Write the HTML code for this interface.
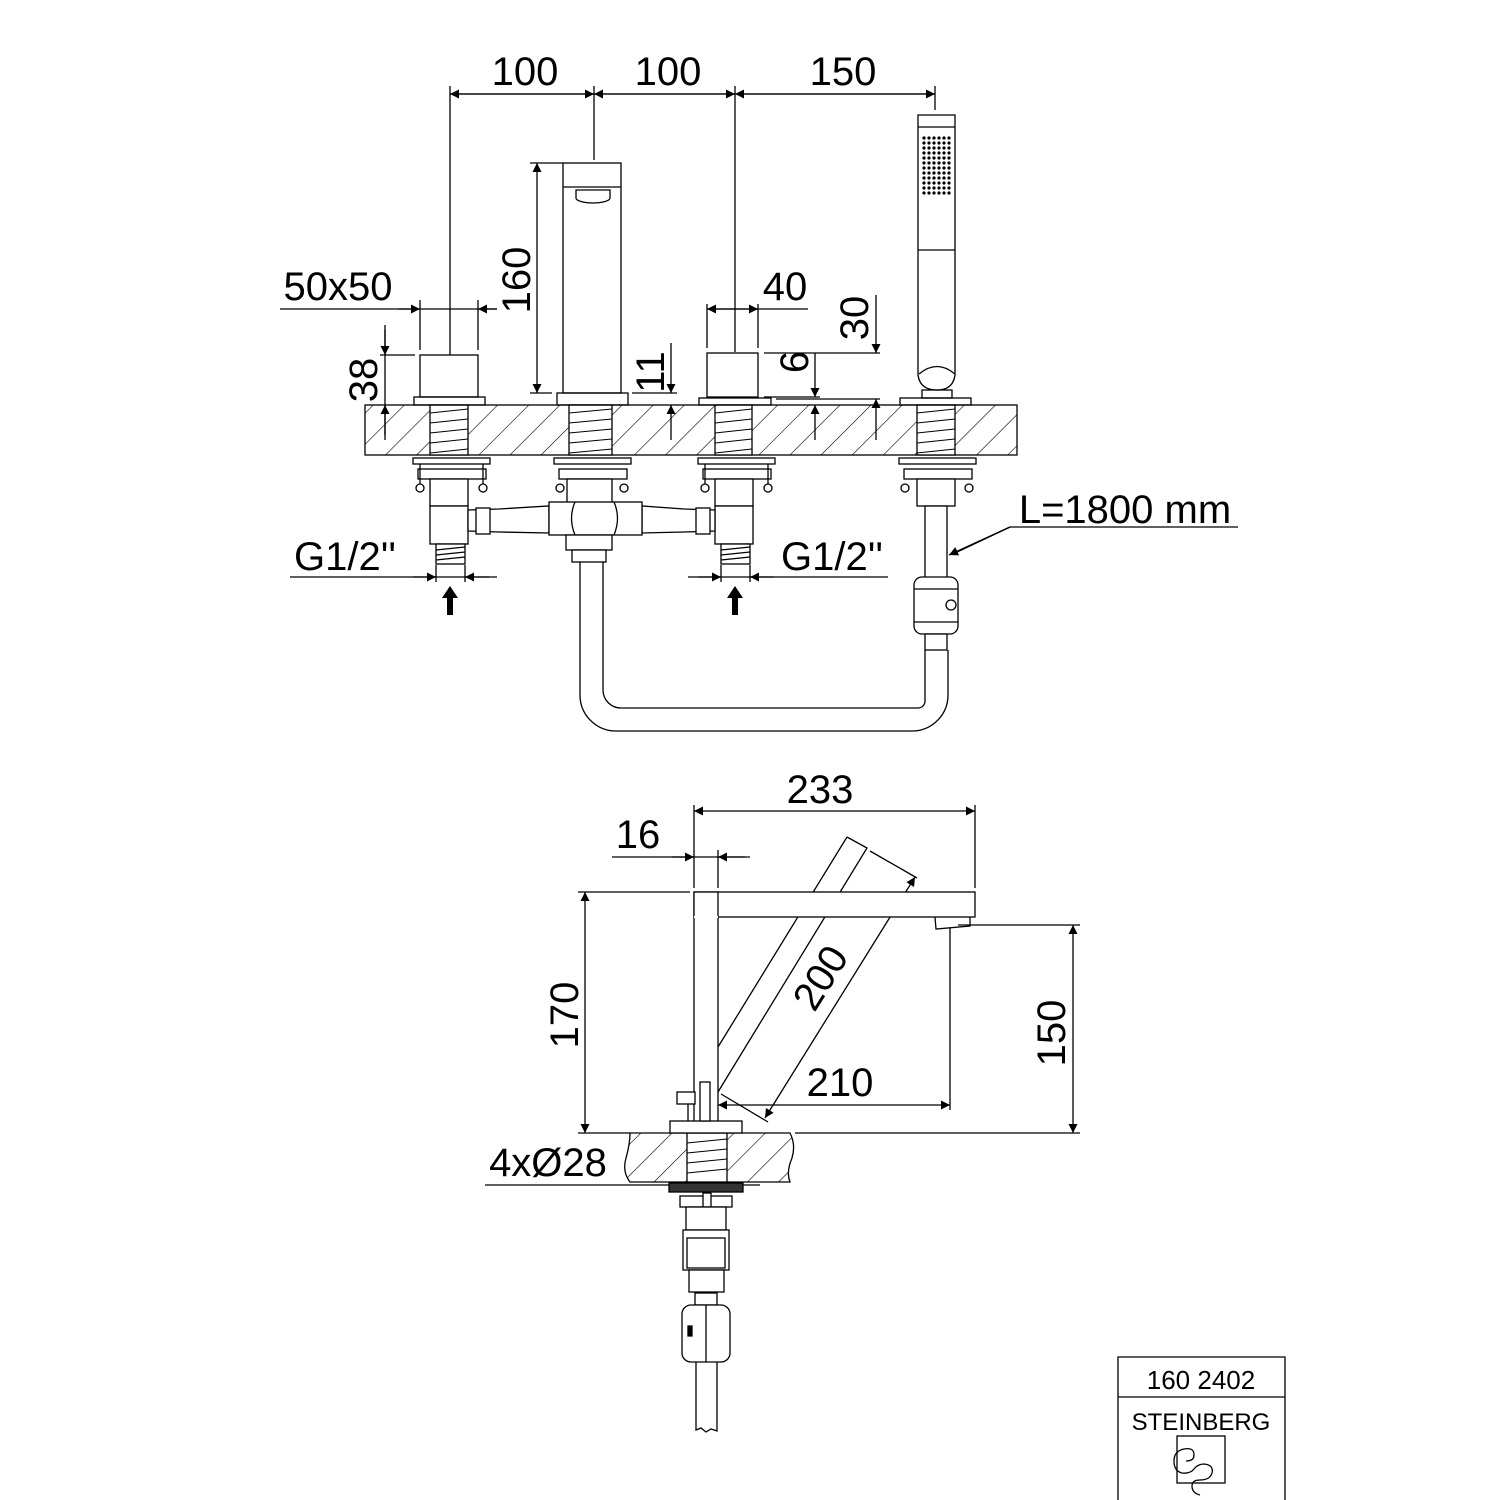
<!DOCTYPE html>
<html><head><meta charset="utf-8"><style>
html,body{margin:0;padding:0;background:#fff}
svg{display:block}
text{font-family:"Liberation Sans",sans-serif;fill:#000}
</style></head><body>
<svg width="1500" height="1500" viewBox="0 0 1500 1500" xmlns="http://www.w3.org/2000/svg">
<defs>
<pattern id="h" width="22" height="22" patternUnits="userSpaceOnUse" patternTransform="rotate(45)">
<rect width="22" height="22" fill="#fff"/><line x1="0" y1="0" x2="0" y2="22" stroke="#000" stroke-width="1.2"/>
</pattern>
<marker id="a" viewBox="0 0 10 10" refX="10" refY="5" markerWidth="20" markerHeight="9" markerUnits="userSpaceOnUse" orient="auto-start-reverse"><path d="M0,0L10,5L0,10z" fill="#000"/></marker>
</defs>
<g stroke="#000" stroke-width="1.3" fill="none">
<line x1="450" y1="94" x2="935" y2="94"/>
<line x1="450" y1="94" x2="594" y2="94" marker-start="url(#a)" marker-end="url(#a)"/>
<line x1="594" y1="94" x2="735" y2="94" marker-start="url(#a)" marker-end="url(#a)"/>
<line x1="735" y1="94" x2="935" y2="94" marker-start="url(#a)" marker-end="url(#a)"/>
<line x1="450" y1="86" x2="450" y2="355"/>
<line x1="594" y1="86" x2="594" y2="160"/>
<line x1="735" y1="86" x2="735" y2="352"/>
<line x1="935" y1="86" x2="935" y2="110"/>
<rect x="365" y="405" width="652" height="50" fill="url(#h)"/>
<g fill="#fff">
<rect x="430" y="405" width="38" height="50"/><rect x="569" y="405" width="43" height="50"/>
<rect x="715" y="405" width="37" height="50"/><rect x="917" y="405" width="38" height="50"/>
</g>
<g stroke-width="1">
<path d="M430,413L468,409M430,423L468,419M430,433L468,429M430,443L468,439M430,453L468,449"/>
<path d="M569,413L612,409M569,423L612,419M569,433L612,429M569,443L612,439M569,453L612,449"/>
<path d="M715,413L752,409M715,423L752,419M715,433L752,429M715,443L752,439M715,453L752,449"/>
<path d="M917,413L955,409M917,423L955,419M917,433L955,429M917,443L955,439M917,453L955,449"/>
</g>
<rect x="414" y="397" width="71" height="8"/>
<rect x="420" y="355" width="58" height="42"/>
<line x1="280" y1="309" x2="497" y2="309"/>
<line x1="420" y1="300" x2="420" y2="350"/><line x1="478" y1="300" x2="478" y2="350"/>
<line x1="398" y1="309" x2="420" y2="309" marker-end="url(#a)"/>
<line x1="497" y1="309" x2="478" y2="309" marker-end="url(#a)"/>
<line x1="385" y1="325" x2="385" y2="440"/>
<line x1="385" y1="330" x2="385" y2="355" marker-end="url(#a)"/>
<line x1="385" y1="435" x2="385" y2="405" marker-end="url(#a)"/>
<line x1="380" y1="355" x2="415" y2="355"/>
<rect x="557" y="393" width="71" height="12"/>
<rect x="563" y="163" width="58" height="230"/>
<line x1="563" y1="187" x2="621" y2="187"/>
<path d="M576,190v8a17,5 0 0 0 34,0v-8z"/>
<line x1="530" y1="163" x2="563" y2="163"/><line x1="530" y1="393" x2="552" y2="393"/>
<line x1="537" y1="163" x2="537" y2="393" marker-start="url(#a)" marker-end="url(#a)"/>
<line x1="632" y1="393" x2="677" y2="393"/>
<line x1="671" y1="343" x2="671" y2="393" marker-end="url(#a)"/>
<line x1="671" y1="440" x2="671" y2="405" marker-end="url(#a)"/>
<rect x="699" y="398" width="72" height="7"/>
<rect x="707" y="353" width="51" height="44"/>
<line x1="707" y1="309" x2="808" y2="309"/>
<line x1="707" y1="304" x2="707" y2="348"/><line x1="758" y1="304" x2="758" y2="348"/>
<line x1="707" y1="309" x2="758" y2="309" marker-start="url(#a)" marker-end="url(#a)"/>
<line x1="764" y1="353" x2="880" y2="353"/>
<line x1="764" y1="397" x2="820" y2="397"/>
<line x1="776" y1="399" x2="880" y2="399"/>
<line x1="815" y1="353" x2="815" y2="397" marker-end="url(#a)"/>
<line x1="815" y1="440" x2="815" y2="405" marker-end="url(#a)"/>
<line x1="876" y1="295" x2="876" y2="353" marker-end="url(#a)"/>
<line x1="876" y1="440" x2="876" y2="399" marker-end="url(#a)"/>
<rect x="900" y="398" width="71" height="7"/>
<path d="M918,115h37v260q-2,15 -18,15q-17,0 -19,-15z"/>
<line x1="918" y1="127" x2="955" y2="127"/>
<line x1="918" y1="250" x2="955" y2="250"/>
<path d="M919,374q18,-15 36,0"/>
<rect x="922" y="390" width="30" height="8"/>
</g>
<g fill="#000">
<g id="dr"><circle cx="924" cy="138" r="1.6"/><circle cx="929" cy="138" r="1.6"/><circle cx="934" cy="138" r="1.6"/><circle cx="939" cy="138" r="1.6"/><circle cx="944" cy="138" r="1.6"/><circle cx="949" cy="138" r="1.6"/></g>
<use href="#dr" y="5"/><use href="#dr" y="10"/><use href="#dr" y="15"/><use href="#dr" y="20"/><use href="#dr" y="25"/><use href="#dr" y="30"/><use href="#dr" y="35"/><use href="#dr" y="40"/><use href="#dr" y="45"/><use href="#dr" y="50"/><use href="#dr" y="55"/>
</g>
<g stroke="#000" stroke-width="1.3" fill="#fff">
<g id="val">
<rect x="413" y="458" width="77" height="6"/>
<rect x="418" y="469" width="68" height="10"/>
<line x1="420" y1="464" x2="420" y2="485"/><line x1="483" y1="464" x2="483" y2="485"/>
<circle cx="420" cy="488" r="4"/><circle cx="483" cy="488" r="4"/>
<rect x="430" y="479" width="38" height="27"/>
<rect x="430" y="506" width="38" height="38"/>
<rect x="436" y="544" width="29" height="20"/>
<path d="M436,550l29,-3M436,555l29,-3M436,560l29,-3" fill="none"/>
</g>
<use href="#val" x="285"/>
<g>
<rect x="554" y="458" width="77" height="6"/>
<rect x="559" y="469" width="68" height="10"/>
<circle cx="560" cy="488" r="4"/><circle cx="624" cy="488" r="4"/>
<rect x="567" y="479" width="45" height="27"/>
</g>
<g>
<rect x="899" y="458" width="77" height="6"/>
<rect x="904" y="469" width="68" height="10"/>
<circle cx="905" cy="488" r="4"/><circle cx="969" cy="488" r="4"/>
<rect x="917" y="479" width="38" height="27"/>
</g>
<path d="M468,510L499,509L549,506L549,533L499,532L468,531z"/>
<rect x="476" y="508" width="14" height="26"/>
<path d="M715,510L684,509L642,506L642,533L684,532L715,531z"/>
<rect x="696" y="508" width="14" height="26"/>
<rect x="549" y="502" width="93" height="33"/>
<path d="M575,502q-7,16 0,33M614,502q7,16 0,33" fill="none"/>
<rect x="566" y="535" width="46" height="15"/>
<rect x="572" y="550" width="34" height="12"/>
<path d="M580,562V695a36,36 0 0 0 36,36H912a36,36 0 0 0 36,-36V650M603,562V690a18,18 0 0 0 18,18H918a7,7 0 0 0 7,-7V650" fill="none"/>
<rect x="925" y="506" width="22" height="72"/>
<rect x="914" y="577" width="44" height="57" rx="8"/>
<line x1="914" y1="589" x2="958" y2="589"/><line x1="914" y1="622" x2="958" y2="622"/>
<circle cx="951" cy="605" r="5"/>
<rect x="925" y="634" width="22" height="16"/>
</g>
<g stroke="#000" stroke-width="1.3" fill="none">
<line x1="290" y1="577" x2="497" y2="577"/>
<line x1="413" y1="577" x2="436" y2="577" marker-end="url(#a)"/>
<line x1="489" y1="577" x2="465" y2="577" marker-end="url(#a)"/>
<line x1="436" y1="565" x2="436" y2="582"/><line x1="465" y1="565" x2="465" y2="582"/>
<line x1="688" y1="577" x2="888" y2="577"/>
<line x1="698" y1="577" x2="721" y2="577" marker-end="url(#a)"/>
<line x1="774" y1="577" x2="750" y2="577" marker-end="url(#a)"/>
<line x1="721" y1="565" x2="721" y2="582"/><line x1="750" y1="565" x2="750" y2="582"/>
<path d="M1238,527H1010L955,553"/>
<line x1="1010" y1="527" x2="949" y2="555" marker-end="url(#a)"/>
</g>
<g fill="#000">
<path d="M450,586l-8,12h5v17h6v-17h5z"/>
<path d="M735,586l-8,12h5v17h6v-17h5z"/>
</g>
<g stroke="#000" stroke-width="1.3" fill="none">
<line x1="694" y1="811" x2="975" y2="811" marker-start="url(#a)" marker-end="url(#a)"/>
<line x1="694" y1="805" x2="694" y2="888"/><line x1="975" y1="805" x2="975" y2="888"/>
<line x1="612" y1="857" x2="750" y2="857"/>
<line x1="672" y1="857" x2="694" y2="857" marker-end="url(#a)"/>
<line x1="745" y1="857" x2="718" y2="857" marker-end="url(#a)"/>
<line x1="718" y1="850" x2="718" y2="888"/>
<path d="M847,837L867,848L718,1092M847,837L718,1047"/>
<line x1="870" y1="851" x2="917" y2="878"/>
<line x1="721" y1="1094" x2="768" y2="1122"/>
<line x1="765" y1="1118" x2="915" y2="877" marker-start="url(#a)" marker-end="url(#a)"/>
<rect x="694" y="892" width="281" height="25" fill="#fff"/>
<rect x="694" y="892" width="24" height="235" fill="#fff"/>
<line x1="694" y1="917" x2="718" y2="917" stroke="#fff" stroke-width="2"/>
<path d="M935,917l1,12l34,-3l0,-9"/>
<line x1="578" y1="892" x2="690" y2="892"/>
<line x1="585" y1="892" x2="585" y2="1133" marker-start="url(#a)" marker-end="url(#a)"/>
<line x1="578" y1="1133" x2="630" y2="1133"/>
<line x1="958" y1="925" x2="1080" y2="925"/>
<line x1="1073" y1="925" x2="1073" y2="1133" marker-start="url(#a)" marker-end="url(#a)"/>
<line x1="795" y1="1133" x2="1080" y2="1133"/>
<line x1="950" y1="928" x2="950" y2="1110"/>
<line x1="718" y1="1105" x2="950" y2="1105" marker-start="url(#a)" marker-end="url(#a)"/>
<path d="M630,1133H790q6,12 2,25q-6,14 -2,24H630q-8,-10 -4,-24q4,-14 4,-25z" fill="url(#h)"/>
<rect x="687" y="1133" width="40" height="49" fill="#fff"/>
<path d="M687,1143l40,-4M687,1153l40,-4M687,1163l40,-4M687,1173l40,-4" stroke-width="1"/>
<line x1="485" y1="1185" x2="760" y2="1185"/>
<rect x="670" y="1121" width="72" height="12" fill="#fff"/>
<rect x="700" y="1082" width="10" height="39" fill="#fff"/>
<rect x="677" y="1092" width="18" height="12" fill="#fff"/>
<line x1="688" y1="1104" x2="688" y2="1121"/>
<rect x="669" y="1183" width="74" height="9" fill="#333"/>
<rect x="680" y="1196" width="52" height="11" fill="#fff"/>
<rect x="703" y="1193" width="8" height="14" fill="#fff"/>
<rect x="686" y="1207" width="40" height="23" fill="#fff"/>
<rect x="683" y="1230" width="46" height="40" fill="#fff"/>
<rect x="687" y="1238" width="38" height="30" fill="#fff"/>
<rect x="689" y="1270" width="35" height="22" fill="#fff"/>
<rect x="695" y="1293" width="22" height="12" fill="#fff"/>
<rect x="682" y="1305" width="48" height="57" rx="9" fill="#fff"/>
<line x1="706" y1="1305" x2="706" y2="1362"/>
<path d="M692,1326h-4v10h4z" fill="#000"/>
<path d="M696,1362V1430l5,-2l5,4l5,-3l6,2V1362"/>
<path d="M1118,1500V1357H1285V1500M1118,1397H1285"/>
<rect x="1177" y="1436" width="48" height="47"/>
<path d="M1200,1495q-8,-2 -8,-9q0,-6 8,-6q10,0 12,-7q2,-8 -8,-9q-6,0 -10,5q-4,5 -12,4q-8,-2 -8,-12q0,-10 10,-12q10,-2 10,6q0,6 -8,6"/>
</g>
<g font-size="40">
<text x="525" y="85" text-anchor="middle">100</text>
<text x="668" y="85" text-anchor="middle">100</text>
<text x="843" y="85" text-anchor="middle">150</text>
<text x="338" y="300" text-anchor="middle">50x50</text>
<text x="785" y="300" text-anchor="middle">40</text>
<text transform="translate(377,380) rotate(-90)" text-anchor="middle">38</text>
<text transform="translate(530,280) rotate(-90)" text-anchor="middle">160</text>
<text transform="translate(664,372) rotate(-90)" text-anchor="middle">11</text>
<text transform="translate(808,362) rotate(-90)" text-anchor="middle">6</text>
<text transform="translate(868,318) rotate(-90)" text-anchor="middle">30</text>
<text x="1125" y="523" text-anchor="middle">L=1800 mm</text>
<text x="345" y="570" text-anchor="middle">G1/2''</text>
<text x="832" y="570" text-anchor="middle">G1/2''</text>
<text x="820" y="803" text-anchor="middle">233</text>
<text x="638" y="848" text-anchor="middle">16</text>
<text transform="translate(578,1015) rotate(-90)" text-anchor="middle">170</text>
<text transform="translate(1065,1033) rotate(-90)" text-anchor="middle">150</text>
<text transform="translate(832,985) rotate(-58)" text-anchor="middle">200</text>
<text x="840" y="1096" text-anchor="middle">210</text>
<text x="548" y="1176" text-anchor="middle">4xØ28</text>
</g>
<text x="1201" y="1389" font-size="26" text-anchor="middle">160 2402</text>
<text x="1201" y="1430" font-size="24" text-anchor="middle" font-weight="300">STEINBERG</text>
</svg>
</body></html>
